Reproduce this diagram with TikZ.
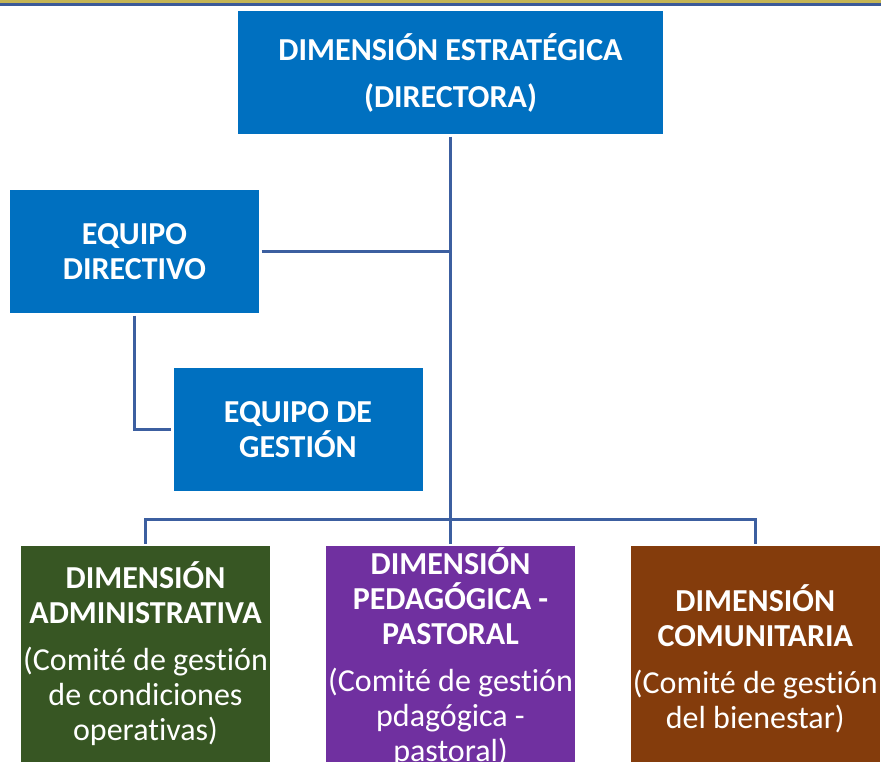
\documentclass[tikz,border=0pt]{standalone}
\usepackage{fontspec}
\setmainfont[Ligatures=NoCommon]{Carlito}
\definecolor{boxblue}{HTML}{0070C0}
\definecolor{boxgreen}{HTML}{375623}
\definecolor{boxpurple}{HTML}{7030A0}
\definecolor{boxbrown}{HTML}{843C0C}
\definecolor{linec}{RGB}{60,95,160}
\definecolor{bandgold}{RGB}{196,180,84}
\definecolor{bandblue}{RGB}{59,89,152}
\begin{document}
\begin{tikzpicture}[x=1pt,y=-1pt,
  box/.style={draw=none, inner sep=0pt, outer sep=2.5pt, align=flush center, text=white,
    font=\fontsize{32}{35}\selectfont},
  txt/.style={inner sep=0pt, align=flush center, text=white, text width=249pt,
    font=\fontsize{32}{35}\selectfont},
  conn/.style={draw=linec, line width=3pt},
]
\useasboundingbox (0,0) rectangle (881,764);
\fill[bandgold] (0,0) rectangle (881,3.3);
\fill[bandblue] (0,3.3) rectangle (881,6.2);

\node[box, fill=boxblue, minimum width=425pt, minimum height=123pt, text width=425pt]
  (top) at (450.5,72.7) {\textbf{DIMENSIÓN ESTRATÉGICA}\\[12pt]\textbf{(DIRECTORA)}};
\node[box, fill=boxblue, minimum width=249pt, minimum height=123pt, text width=249pt]
  (ed) at (134.5,251.5) {\textbf{EQUIPO}\\\textbf{DIRECTIVO}};
\node[box, fill=boxblue, minimum width=249pt, minimum height=123pt, text width=249pt]
  (eg) at (298,429.7) {\textbf{EQUIPO DE}\\\textbf{GESTIÓN}};

\node[box, fill=boxgreen, minimum width=249pt, minimum height=216pt, text width=249pt]
  (adm) at (145.5,654) {\textbf{DIMENSIÓN}\\\textbf{ADMINISTRATIVA}\\[12pt](Comité de gestión\\de condiciones\\operativas)};
\node[box, fill=boxpurple, minimum width=249pt, minimum height=216pt] (ped) at (450.5,654) {};
\node[txt] (pedt) at ([yshift=-3pt]ped.center)
  {\textbf{DIMENSIÓN}\\\textbf{PEDAGÓGICA -}\\\textbf{PASTORAL}\\[12pt](Comité de gestión\\pdagógica -\\pastoral)};
\node[box, fill=boxbrown, minimum width=249pt, minimum height=216pt] (com) at (755.3,654) {};
\node[txt] (comt) at ([yshift=-5pt]com.center)
  {\textbf{DIMENSIÓN}\\\textbf{COMUNITARIA}\\[12pt](Comité de gestión\\del bienestar)};

\coordinate (bus) at (450.5,519.3);
\draw[conn] (top.south) -- (top.south |- bus);
\draw[conn] (ed.east) -- (ed.east -| top.south);
\draw[conn] (ed.south) |- (eg.west);
\draw[conn] (adm.north) -- (adm.north |- bus) -- (com.north |- bus) -- (com.north);
\draw[conn] (ped.north |- bus) -- (ped.north);
\end{tikzpicture}
\end{document}
